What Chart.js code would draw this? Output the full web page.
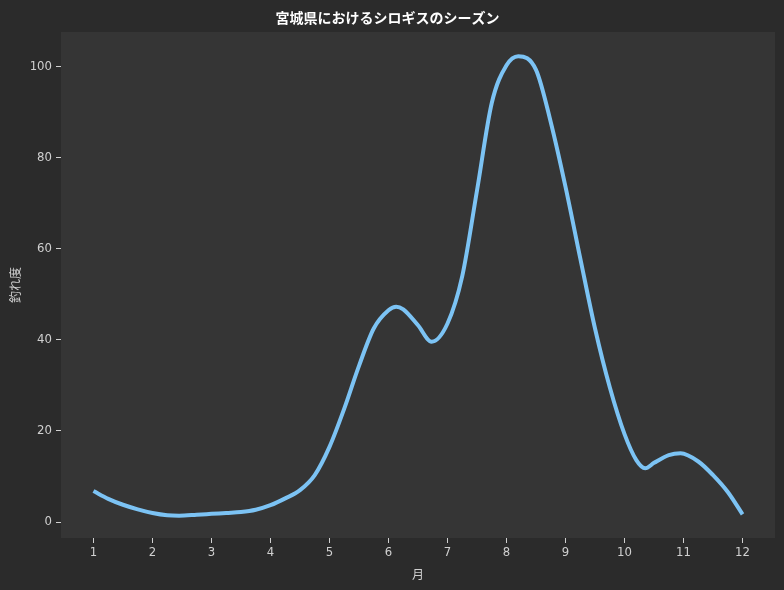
<!DOCTYPE html>
<html>
<head>
<meta charset="utf-8">
<script src="https://cdn.jsdelivr.net/npm/chart.js@4"></script>
<style>
  html, body { margin: 0; padding: 0; background: #2b2b2b; }
  #wrap { width: 784px; height: 590px; }
</style>
</head>
<body>
<div id="wrap"><canvas id="c" width="784" height="590"></canvas></div>
<script>
// Month positions and catch index values
// (quarter-month steps, plus the turning points of the curve)
const months = [1, 1.25, 1.5, 1.75, 2, 2.25, 2.45, 2.75, 3, 3.25, 3.5, 3.75, 4, 4.25, 4.5, 4.75,
  5, 5.25, 5.5, 5.75, 6, 6.13, 6.25, 6.5, 6.73, 7, 7.25, 7.5, 7.75, 8, 8.2, 8.5, 8.75,
  9, 9.25, 9.5, 9.75, 10, 10.2, 10.35, 10.5, 10.75, 10.95, 11.25, 11.5, 11.75, 12];
const catchIndex = [6.8, 5.1, 3.8, 2.8, 2.0, 1.5, 1.4, 1.6, 1.8, 2.0, 2.2, 2.7, 3.7, 5.2, 7.0, 10.3,
  16.5, 24.9, 34.3, 42.5, 46.5, 47.3, 46.7, 43.2, 39.6, 43.6, 54.0, 72.8, 92.0, 100.3, 102.3, 99.3, 87.8,
  73.6, 57.9, 42.5, 29.6, 19.3, 13.6, 11.8, 13.0, 14.7, 15.1, 13.3, 10.3, 6.6, 1.7];
const xTicks = [1, 2, 3, 4, 5, 6, 7, 8, 9, 10, 11, 12];
const yTicks = [0, 20, 40, 60, 80, 100];

const titleText = '宮城県におけるシロギスのシーズン';
const xLabel = '月';
const yLabel = '釣れ度';

const FONT = "'Noto Sans CJK JP', 'Noto Sans', sans-serif";
const TICKFONT = "'DejaVu Sans Condensed', 'Noto Sans CJK JP', sans-serif";

const bgPlugin = {
  id: 'bg',
  beforeDraw(chart) {
    const { ctx, chartArea: a } = chart;
    ctx.save();
    ctx.fillStyle = '#2b2b2b';
    ctx.fillRect(0, 0, chart.width, chart.height);
    ctx.fillStyle = '#353535';
    ctx.fillRect(a.left, a.top, a.right - a.left, a.bottom - a.top);
    ctx.restore();
  }
};

new Chart(document.getElementById('c'), {
  type: 'line',
  data: {
    datasets: [{
      data: months.map((m, i) => ({ x: m, y: catchIndex[i] })),
      borderColor: '#7cc3f4',
      borderWidth: 4,
      pointRadius: 0,
      tension: 0.4,
      cubicInterpolationMode: 'monotone',
      borderCapStyle: 'butt',
      borderJoinStyle: 'round',
      fill: false
    }]
  },
  options: {
    responsive: false,
    animation: false,
    devicePixelRatio: 1,
    layout: { padding: { left: 0, right: 9, top: 0, bottom: 0 } },
    plugins: {
      legend: { display: false },
      tooltip: { enabled: false },
      title: {
        display: true,
        text: titleText,
        color: '#ffffff',
        font: { family: FONT, size: 14, weight: 'bold', lineHeight: 1.2 },
        padding: { top: 9.6, bottom: 5.6 }
      }
    },
    scales: {
      x: {
        type: 'linear',
        min: 0.45,
        max: 12.55,
        afterBuildTicks: s => { s.ticks = xTicks.map(v => ({ value: v })); },
        afterFit: s => { s.height = 52; },
        grid: { display: true, drawOnChartArea: false, drawTicks: true, tickLength: 5, color: '#d0d0d0', lineWidth: 1 },
        border: { display: false },
        ticks: { color: '#d0d0d0', font: { family: TICKFONT, size: 13 }, padding: 2 },
        title: {
          display: true, text: xLabel, color: '#d0d0d0',
          font: { family: FONT, size: 12, lineHeight: 1.2 },
          padding: { top: 0, bottom: 8.8 }
        }
      },
      y: {
        type: 'linear',
        min: -3.5,
        max: 107.6,
        afterBuildTicks: s => { s.ticks = yTicks.map(v => ({ value: v })); },
        afterFit: s => { s.width = 61; },
        grid: { display: true, drawOnChartArea: false, drawTicks: true, tickLength: 5, color: '#d0d0d0', lineWidth: 1 },
        border: { display: false },
        ticks: { color: '#d0d0d0', font: { family: TICKFONT, size: 13 }, padding: 4 },
        title: {
          display: true, text: yLabel, color: '#d0d0d0',
          font: { family: FONT, size: 12, lineHeight: 1.2 },
          padding: { top: 7.8, bottom: 0 }
        }
      }
    }
  },
  plugins: [bgPlugin]
});
</script>
</body>
</html>
